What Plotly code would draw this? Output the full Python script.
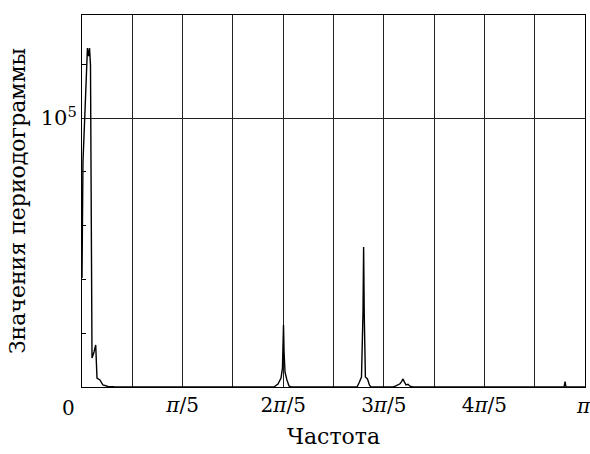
import math
import plotly.graph_objects as go

PI = math.pi

# Periodogram values (frequency in radians, value)
freq = [0.000, 0.006, 0.019, 0.028, 0.034, 0.041, 0.047, 0.053, 0.056, 0.0625,
        0.075, 0.0856, 0.0937, 0.112, 0.131, 0.162, 0.200, 0.40, 0.70, 1.00,
        1.199, 1.224, 1.243, 1.252, 1.2555, 1.2586, 1.262, 1.268, 1.280, 1.293, 1.305,
        1.50, 1.7177, 1.730, 1.7457, 1.755, 1.7589, 1.7627, 1.770, 1.783, 1.7957, 1.805,
        1.90, 1.9425, 1.961, 1.974, 1.986, 1.996, 2.005, 2.014, 2.024, 2.036, 2.049, 2.067,
        2.30, 2.60, 2.63, 2.65, 2.90, 3.011, 3.017, 3.023, PI]
power = [40500, 83600, 103000, 117800, 126000, 123000, 126000, 119700, 64700, 10800,
         13000, 15600, 3300, 2600, 740, 200, 80, 30, 20, 20,
         0, 1100, 3300, 7000, 13400, 23000, 13000, 5500, 2600, 400, 0,
         20, 0, 1500, 3700, 27500, 52000, 27500, 3700, 3000, 700, 0,
         20, 0, 400, 900, 1200, 2000, 3000, 1800, 800, 1000, 300, 0,
         20, 20, 250, 20, 20, 0, 2000, 0, 0]

x_tickvals = [k * PI / 5 for k in range(1, 5)]
x_ticktext = ["<i>π</i>/5", "2<i>π</i>/5", "3<i>π</i>/5", "4<i>π</i>/5"]
x_minor = [k * PI / 10 for k in (1, 3, 5, 7, 9)]
y_tickvals = [100000]
y_ticktext = ["10<sup>5</sup>"]
y_minor = [20000, 40000, 60000, 80000, 120000]

FONT = "DejaVu Serif"
TICK_SIZE = 20
TITLE_SIZE = 22

fig = go.Figure()
fig.add_trace(go.Scatter(x=freq, y=power, mode="lines",
                         line=dict(color="black", width=1.4), showlegend=False))

fig.update_layout(
    width=590, height=454,
    margin=dict(l=82, r=5, t=15, b=67),
    paper_bgcolor="white", plot_bgcolor="white",
    font=dict(family=FONT, size=TICK_SIZE, color="black"),
    xaxis=dict(range=[0, PI], tickvals=x_tickvals, ticktext=x_ticktext,
               showgrid=True, gridcolor="#222", gridwidth=1,
               showline=True, mirror=True, linecolor="black", linewidth=1,
               ticks="", zeroline=False, tickfont=dict(family=FONT, size=TICK_SIZE),
               minor=dict(tickvals=x_minor, ticks="", showgrid=True,
                          gridcolor="#222", gridwidth=1)),
    yaxis=dict(range=[0, 138300], tickvals=y_tickvals, ticktext=y_ticktext,
               showgrid=True, gridcolor="#222", gridwidth=1,
               showline=True, mirror=True, linecolor="black", linewidth=1,
               ticks="", zeroline=False, tickfont=dict(family=FONT, size=21),
               minor=dict(tickvals=y_minor, ticks="inside", ticklen=4,
                          tickcolor="black", showgrid=False)),
    annotations=[
        dict(text="0", xref="paper", yref="paper", x=0, y=0, xshift=-14, yshift=-21,
             showarrow=False, xanchor="center", yanchor="middle",
             font=dict(family=FONT, size=TICK_SIZE)),
        dict(text="<i>π</i>", xref="paper", yref="paper", x=1, y=0, xshift=-2, yshift=-19,
             showarrow=False, xanchor="center", yanchor="middle",
             font=dict(family=FONT, size=TICK_SIZE)),
        dict(text="Частота", xref="paper", yref="paper", x=0.5, y=-0.134,
             showarrow=False, xanchor="center", yanchor="middle",
             font=dict(family=FONT, size=TITLE_SIZE)),
        dict(text="Значения периодограммы", xref="paper", yref="paper", x=-0.129, y=0.5,
             showarrow=False, xanchor="center", yanchor="middle", textangle=-90,
             font=dict(family=FONT, size=TITLE_SIZE)),
    ],
)

fig.write_html("out.html")
